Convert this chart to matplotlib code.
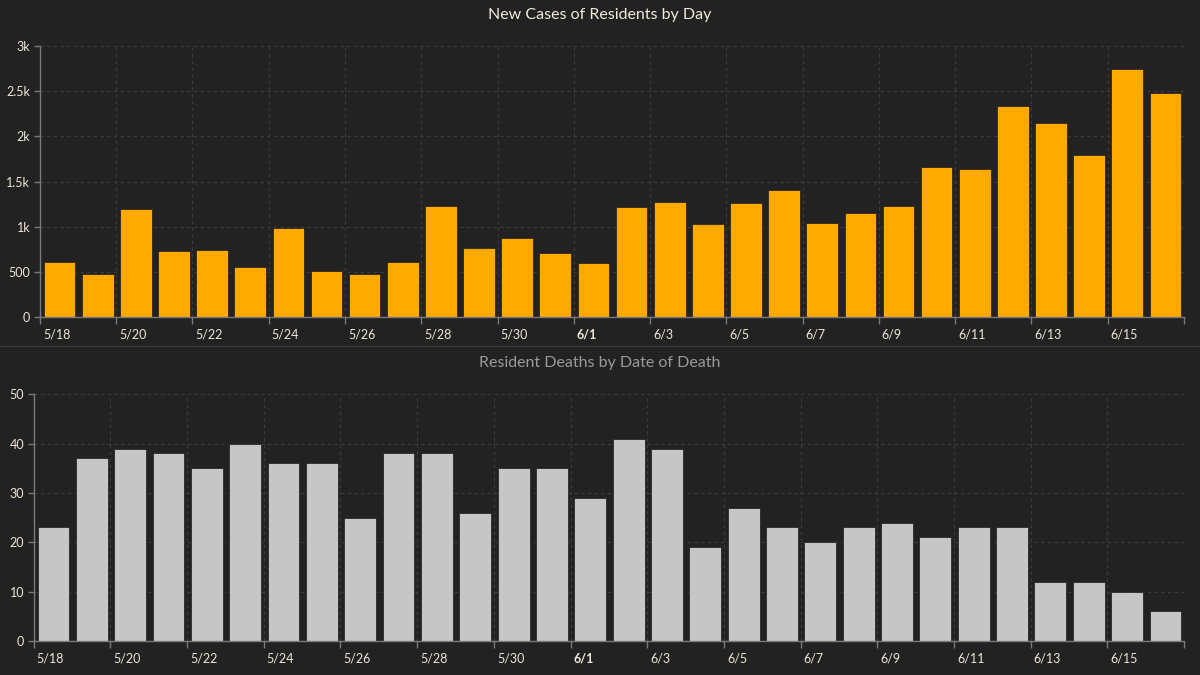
import matplotlib
matplotlib.use("Agg")
import matplotlib.pyplot as plt
import matplotlib.transforms as mtransforms
from matplotlib.lines import Line2D

plt.rcParams['font.family'] = ['Lato', 'DejaVu Sans']

days = ["5/18", "5/19", "5/20", "5/21", "5/22", "5/23", "5/24", "5/25", "5/26", "5/27",
        "5/28", "5/29", "5/30", "5/31", "6/1", "6/2", "6/3", "6/4", "6/5", "6/6",
        "6/7", "6/8", "6/9", "6/10", "6/11", "6/12", "6/13", "6/14", "6/15", "6/16"]
new_cases = [614, 478, 1193, 732, 743, 556, 986, 511, 478, 614,
             1226, 762, 876, 707, 603, 1218, 1270, 1031, 1259, 1406,
             1042, 1156, 1229, 1664, 1642, 2334, 2150, 1789, 2739, 2481]
deaths = [23, 37, 39, 38, 35, 40, 36, 36, 25, 38,
          38, 26, 35, 35, 29, 41, 39, 19, 27, 23,
          20, 23, 24, 21, 23, 23, 12, 12, 10, 6]
case_ticks = [0, 500, 1000, 1500, 2000, 2500, 3000]
case_tick_labels = ["0", "500", "1k", "1.5k", "2k", "2.5k", "3k"]
death_ticks = [0, 10, 20, 30, 40, 50]
death_tick_labels = ["0", "10", "20", "30", "40", "50"]

BG = "#222222"
ORANGE = "#FFAA00"
GRAY = "#C6C6C6"
GRID = "#3c3c3c"
AXIS = "#7a7a7a"
LABEL = "#EDE6D6"

fig = plt.figure(figsize=(12, 6.75), dpi=100, facecolor=BG)

ax1 = fig.add_axes([0.0333, 0.5299, 0.9533, 0.4024])
ax2 = fig.add_axes([0.0281, 0.0504, 0.9586, 0.3655])

n = len(days)
xs = [i + 0.1 for i in range(n)]

def style(ax, yticks, ylabels, ymax):
    ax.set_facecolor(BG)
    ax.set_xlim(0, n)
    ax.set_ylim(0, ymax)
    for s in ["top", "right"]:
        ax.spines[s].set_visible(False)
    for s in ["left", "bottom"]:
        ax.spines[s].set_color(AXIS)
        ax.spines[s].set_linewidth(1.0)
    xt = list(range(0, n + 1, 2))
    ax.set_xticks(xt)
    labs = [days[i] if i < n else "" for i in xt]
    ax.set_xticklabels(labs)
    ax.set_yticks(yticks)
    ax.set_yticklabels(ylabels)
    ax.tick_params(axis='x', colors=AXIS, length=5, width=1, labelcolor=LABEL,
                   labelsize=9, pad=3)
    ax.tick_params(axis='y', colors=AXIS, length=4, width=1, labelcolor=LABEL,
                   labelsize=9, pad=3)
    offset = mtransforms.ScaledTranslation(3 / 100, 0, fig.dpi_scale_trans)
    for lab in ax.get_xticklabels():
        lab.set_horizontalalignment('left')
        lab.set_transform(lab.get_transform() + offset)
        if lab.get_text() == "6/1":
            lab.set_fontweight('bold')
    ax.grid(True, color=GRID, linestyle=(0, (3, 3)), linewidth=0.8)
    ax.set_axisbelow(True)

ax1.bar(xs, new_cases, width=0.83, align='edge', color=ORANGE, edgecolor="#1a1a1a", linewidth=0.5)
style(ax1, case_ticks, case_tick_labels, 3000)

ax2.bar(xs, deaths, width=0.83, align='edge', color=GRAY, edgecolor="#1a1a1a", linewidth=0.5)
style(ax2, death_ticks, death_tick_labels, 50)

fig.text(0.5, 0.978, "New Cases of Residents by Day", color="#F2EBDC", fontsize=11.5,
         ha='center', va='center')
fig.text(0.5, 0.462, "Resident Deaths by Date of Death", color="#9a9a9a", fontsize=11.5,
         ha='center', va='center')

fig.add_artist(Line2D([0, 1], [0.4874, 0.4874], transform=fig.transFigure, color="#3a3a3a", linewidth=1))

fig.savefig("out.png", dpi=100, facecolor=BG)
